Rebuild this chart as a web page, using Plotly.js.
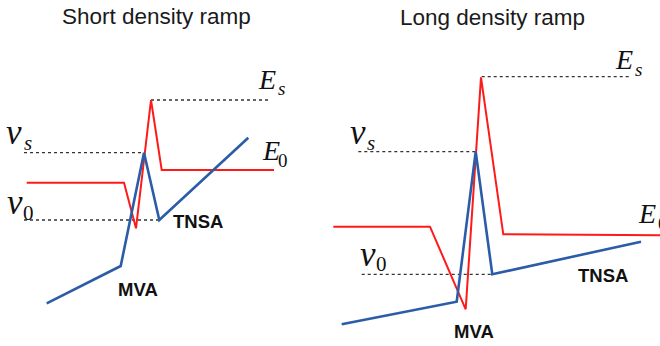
<!DOCTYPE html>
<html>
<head>
<meta charset="utf-8">
<script src="https://cdn.plot.ly/plotly-3.0.1.min.js"></script>
<style>html,body{margin:0;padding:0;background:#fff;}#chart{width:660px;height:346px;}</style>
</head>
<body>
<div id="chart"></div>
<script>
// Schematic coordinates (page units: x 0..660, y 0..346 downward)
const shortRedX = [26.7, 124, 136, 151, 161.7, 274];
const shortRedY = [182.7, 182.7, 228.3, 100, 170, 170];
const shortBlueX = [46.7, 120.7, 144, 159.3, 248.3];
const shortBlueY = [303.3, 266, 152.7, 220, 137.7];
const shortVsX = [24, 143.3];   const shortVsY = [152.7, 152.7];
const shortV0X = [24, 158.7];   const shortV0Y = [220, 220];
const shortEsX = [151, 270];    const shortEsY = [100, 100];

const longRedX = [333.3, 430, 465.7, 481, 503.3, 660];
const longRedY = [226.7, 226.7, 309.3, 77.3, 234.3, 235.3];
const longBlueX = [341.7, 456.7, 475.7, 492.3, 641];
const longBlueY = [324.3, 301.7, 151.7, 274.3, 241.7];
const longVsX = [358.3, 475.7]; const longVsY = [151.7, 151.7];
const longV0X = [361.7, 492.3]; const longV0Y = [274.3, 274.3];
const longEsX = [481.7, 631.7]; const longEsY = [76.7, 76.7];

const panelTitles = ['Short density ramp', 'Long density ramp'];
const processLabels = ['TNSA', 'MVA'];

const RED = '#ff1a1a', BLUE = '#2b5ca8', DOT = '#333333';
function line(x, y, color, width, dash) {
  return {x: x, y: y, type: 'scatter', mode: 'lines', hoverinfo: 'skip',
          line: {color: color, width: width, dash: dash || 'solid'}, cliponaxis: false};
}
const traces = [
  line(shortVsX, shortVsY, DOT, 1.3, 'dot'),
  line(shortV0X, shortV0Y, DOT, 1.3, 'dot'),
  line(shortEsX, shortEsY, DOT, 1.3, 'dot'),
  line(longVsX, longVsY, DOT, 1.3, 'dot'),
  line(longV0X, longV0Y, DOT, 1.3, 'dot'),
  line(longEsX, longEsY, DOT, 1.3, 'dot'),
  line(shortRedX, shortRedY, RED, 2),
  line(shortBlueX, shortBlueY, BLUE, 2.6),
  line(longRedX, longRedY, RED, 2),
  line(longBlueX, longBlueY, BLUE, 2.6)
];

const serif = 'Liberation Serif, DejaVu Serif, serif';
const sans = 'Liberation Sans, Arial, sans-serif';
function txt(x, y, text, size, family, color, xanchor) {
  return {x: x, y: y, xref: 'x', yref: 'y', text: text, showarrow: false,
          xanchor: xanchor || 'center', yanchor: 'middle',
          font: {size: size, family: family, color: color || '#111'}};
}
const big = 35, sub = 21, eBig = 28, eSub = 19;
const annotations = [
  txt(156, 16, panelTitles[0], 22.5, sans, '#1a1a1a'),
  txt(492.5, 17, panelTitles[1], 22.5, sans, '#1a1a1a'),
  // left panel symbols
  txt(14, 132, '<i>v</i>', big, serif),
  txt(28, 143, '<i>s</i>', sub, serif),
  txt(15, 202, '<i>v</i>', big, serif),
  txt(28.5, 213, '0', sub, serif),
  txt(266.5, 79, '<i>E</i>', eBig, serif),
  txt(281, 88, '<i>s</i>', eSub, serif),
  txt(270.5, 150, '<i>E</i>', eBig, serif),
  txt(283, 160, '0', eSub, serif),
  // right panel symbols
  txt(357.5, 132, '<i>v</i>', big, serif),
  txt(371, 143, '<i>s</i>', sub, serif),
  txt(367.5, 254, '<i>v</i>', big, serif),
  txt(381, 264, '0', sub, serif),
  txt(623.5, 59, '<i>E</i>', eBig, serif),
  txt(638, 69, '<i>s</i>', eSub, serif),
  txt(646.5, 213, '<i>E</i>', eBig, serif),
  txt(655.5, 223, '0', eSub, serif, '#111', 'left'),
  // process labels
  txt(198, 221, '<b>' + processLabels[0] + '</b>', 18.5, sans, '#111'),
  txt(138, 289, '<b>' + processLabels[1] + '</b>', 18.5, sans, '#111'),
  txt(603, 275, '<b>' + processLabels[0] + '</b>', 18.5, sans, '#111'),
  txt(474, 331.5, '<b>' + processLabels[1] + '</b>', 18.5, sans, '#111')
];

const layout = {
  width: 660, height: 346,
  margin: {l: 0, r: 0, t: 0, b: 0, pad: 0},
  paper_bgcolor: '#ffffff', plot_bgcolor: '#ffffff',
  showlegend: false,
  xaxis: {range: [0, 660], visible: false, fixedrange: true},
  yaxis: {range: [346, 0], visible: false, fixedrange: true},
  annotations: annotations
};
Plotly.newPlot('chart', traces, layout, {displayModeBar: false, staticPlot: true});
</script>
</body>
</html>
